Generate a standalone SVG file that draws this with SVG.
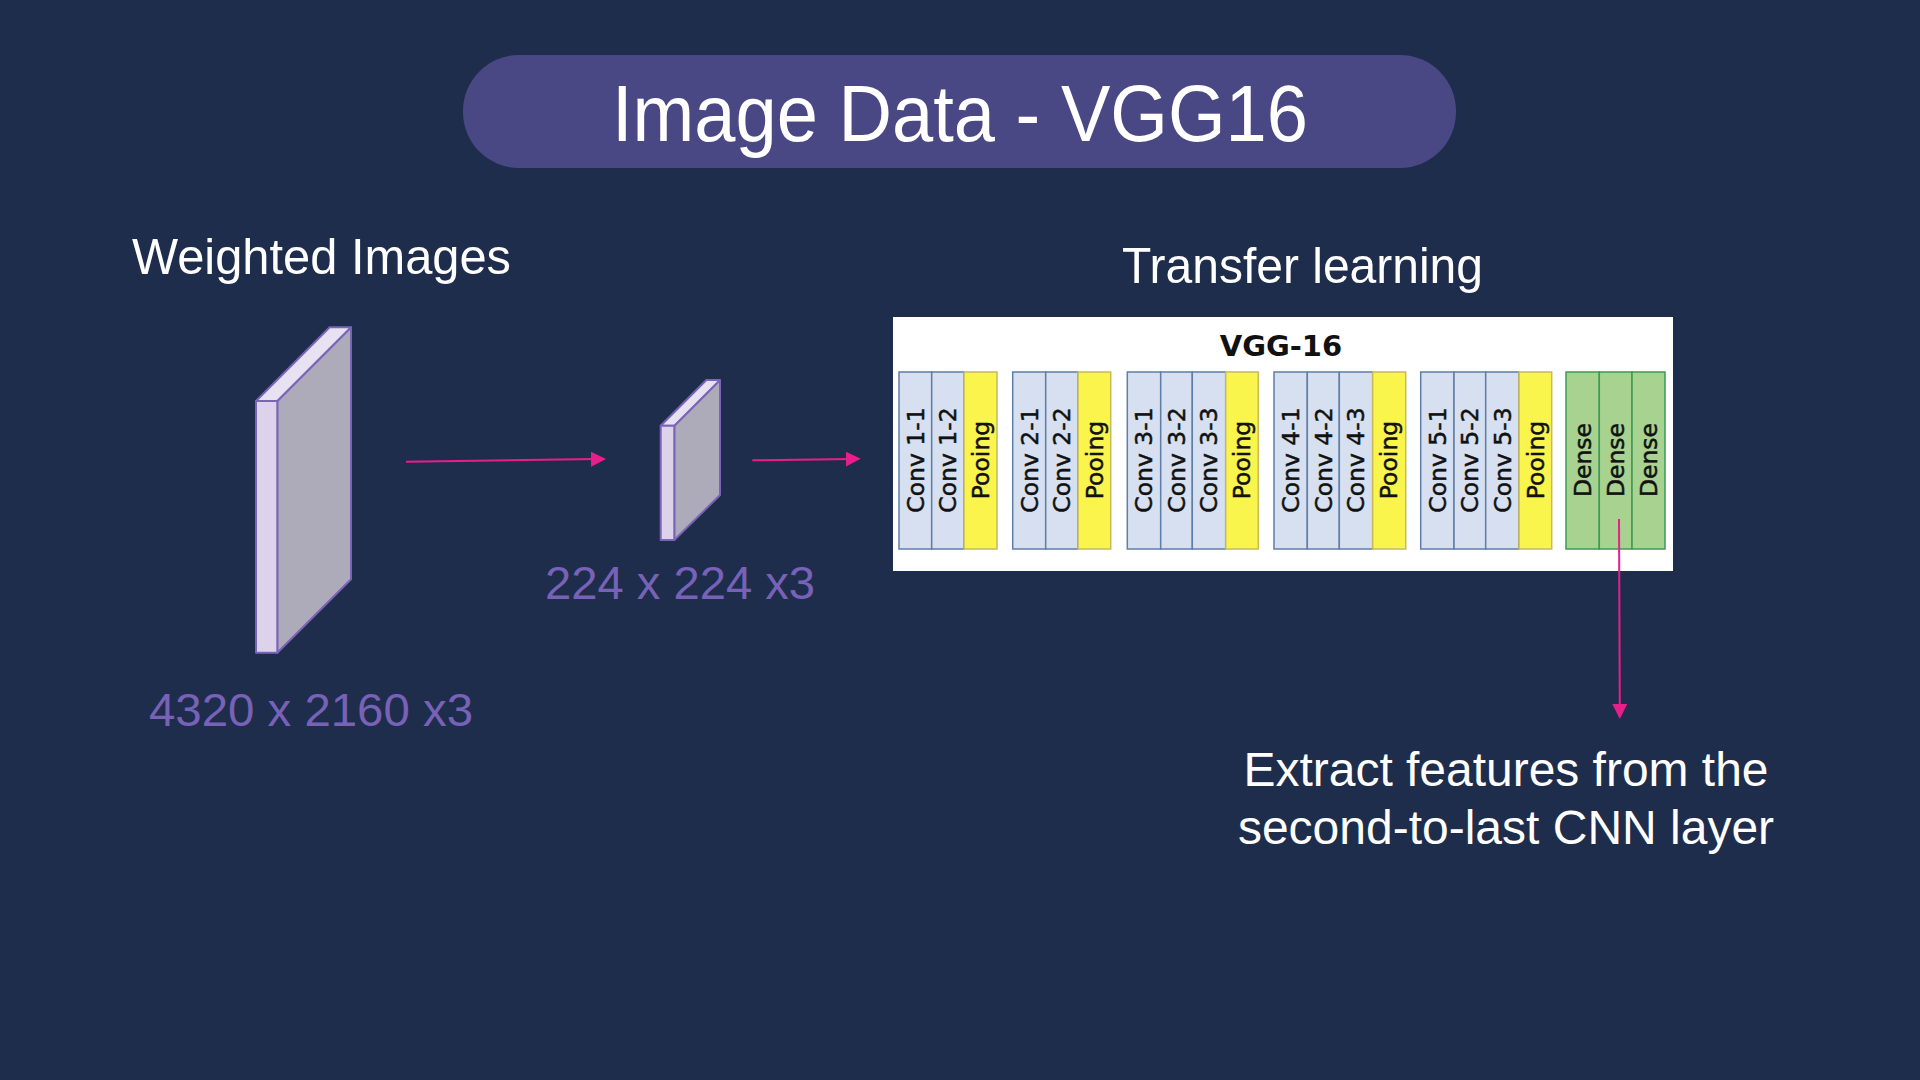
<svg xmlns="http://www.w3.org/2000/svg" width="1920" height="1080" viewBox="0 0 1920 1080">
<defs>
<style>
.bg{fill:#1f2d4c}
.w{fill:#ffffff;font-family:"Liberation Sans",Arial,sans-serif}
.p{fill:#7762b7;font-family:"Liberation Sans",Arial,sans-serif;font-size:46px}
.conv{fill:#d6e0f0;stroke:#5f7ea8;stroke-width:1.5}
.pool{fill:#f9f54d;stroke:#c8b95a;stroke-width:1.5}
.dense{fill:#a7d28f;stroke:#3d9a55;stroke-width:1.5}
.lt{fill:#111111;stroke:#111111;stroke-width:0.5;font-family:"DejaVu Sans",sans-serif;font-size:23.5px;text-anchor:middle}
.front{fill:#dcd3ea;stroke:#7a64b8;stroke-width:2;stroke-linejoin:round}
.top{fill:#e7e2f1;stroke:#7a64b8;stroke-width:2;stroke-linejoin:round}
.side{fill:#adaaba;stroke:#7a64b8;stroke-width:2;stroke-linejoin:round}
.arr{stroke:#e91e8c;stroke-width:2;fill:none;marker-end:url(#ah)}
</style>
<marker id="ah" markerUnits="userSpaceOnUse" markerWidth="16" markerHeight="16" refX="5" refY="7.5" orient="auto">
<path d="M0,0 L15,7.5 L0,15 Z" fill="#e91e8c"/>
</marker>
</defs>
<rect class="bg" x="0" y="0" width="1920" height="1080"/>

<g id="title">
<rect x="463" y="55" width="993" height="113" rx="56" ry="56" fill="#4a4884"/>
<text class="w" x="960" y="141" font-size="80" text-anchor="middle" textLength="696" lengthAdjust="spacingAndGlyphs">Image Data - VGG16</text>
</g>

<g id="label-weighted">
<text class="w" x="132" y="274" font-size="50" textLength="379" lengthAdjust="spacingAndGlyphs">Weighted Images</text>
</g>
<g id="label-transfer">
<text class="w" x="1122" y="283" font-size="50" textLength="361" lengthAdjust="spacingAndGlyphs">Transfer learning</text>
</g>

<g id="big-image">
<polygon class="side" points="277.3,401 351,327.3 351,579.3 277.3,652.7"/>
<polygon class="top" points="256,401 277.3,401 351,327.3 329.7,327.3"/>
<rect class="front" x="256" y="401" width="21.3" height="251.7"/>
<text class="p" x="149" y="726" textLength="324" lengthAdjust="spacingAndGlyphs">4320 x 2160 x3</text>
</g>

<g id="small-image">
<polygon class="side" points="674.3,425.7 720,380 720,495 674.3,540"/>
<polygon class="top" points="660.7,425.7 674.3,425.7 720,380 706.4,380"/>
<rect class="front" x="660.7" y="425.7" width="13.6" height="114.3"/>
<text class="p" x="545" y="599" textLength="270" lengthAdjust="spacingAndGlyphs">224 x 224 x3</text>
</g>

<g id="vgg16">
<rect x="893" y="317" width="780" height="254" fill="#ffffff"/>
<text x="1281" y="356" fill="#111111" font-family="DejaVu Sans,sans-serif" font-weight="bold" font-size="29" text-anchor="middle">VGG-16</text>

<g id="block1">
<rect class="conv" x="899" y="372" width="32.7" height="177"/>
<rect class="conv" x="931.7" y="372" width="32.3" height="177"/>
<rect class="pool" x="964" y="372" width="33" height="177"/>
<text class="lt" transform="translate(923.5,460) rotate(-90)">Conv 1-1</text>
<text class="lt" transform="translate(956,460) rotate(-90)">Conv 1-2</text>
<text class="lt" transform="translate(988.5,460) rotate(-90)">Pooing</text>
</g>

<g id="block2">
<rect class="conv" x="1012.7" y="372" width="33" height="177"/>
<rect class="conv" x="1045.7" y="372" width="32.3" height="177"/>
<rect class="pool" x="1078" y="372" width="32.7" height="177"/>
<text class="lt" transform="translate(1037.5,460) rotate(-90)">Conv 2-1</text>
<text class="lt" transform="translate(1070,460) rotate(-90)">Conv 2-2</text>
<text class="lt" transform="translate(1102.5,460) rotate(-90)">Pooing</text>
</g>

<g id="block3">
<rect class="conv" x="1127.3" y="372" width="33.4" height="177"/>
<rect class="conv" x="1160.7" y="372" width="31.6" height="177"/>
<rect class="conv" x="1192.3" y="372" width="33.4" height="177"/>
<rect class="pool" x="1225.7" y="372" width="32.6" height="177"/>
<text class="lt" transform="translate(1152,460) rotate(-90)">Conv 3-1</text>
<text class="lt" transform="translate(1184.5,460) rotate(-90)">Conv 3-2</text>
<text class="lt" transform="translate(1217,460) rotate(-90)">Conv 3-3</text>
<text class="lt" transform="translate(1250,460) rotate(-90)">Pooing</text>
</g>

<g id="block4">
<rect class="conv" x="1274" y="372" width="33.3" height="177"/>
<rect class="conv" x="1307.3" y="372" width="32" height="177"/>
<rect class="conv" x="1339.3" y="372" width="33.4" height="177"/>
<rect class="pool" x="1372.7" y="372" width="33" height="177"/>
<text class="lt" transform="translate(1298.5,460) rotate(-90)">Conv 4-1</text>
<text class="lt" transform="translate(1331.5,460) rotate(-90)">Conv 4-2</text>
<text class="lt" transform="translate(1364,460) rotate(-90)">Conv 4-3</text>
<text class="lt" transform="translate(1397,460) rotate(-90)">Pooing</text>
</g>

<g id="block5">
<rect class="conv" x="1420.7" y="372" width="33.3" height="177"/>
<rect class="conv" x="1454" y="372" width="31.7" height="177"/>
<rect class="conv" x="1485.7" y="372" width="33.3" height="177"/>
<rect class="pool" x="1519" y="372" width="32.7" height="177"/>
<text class="lt" transform="translate(1445.5,460) rotate(-90)">Conv 5-1</text>
<text class="lt" transform="translate(1478,460) rotate(-90)">Conv 5-2</text>
<text class="lt" transform="translate(1510.5,460) rotate(-90)">Conv 5-3</text>
<text class="lt" transform="translate(1543.5,460) rotate(-90)">Pooing</text>
</g>

<g id="dense">
<rect class="dense" x="1566" y="372" width="33.3" height="177"/>
<rect class="dense" x="1599.3" y="372" width="32.7" height="177"/>
<rect class="dense" x="1632" y="372" width="33" height="177"/>
<text class="lt" transform="translate(1591,460) rotate(-90)">Dense</text>
<text class="lt" transform="translate(1624,460) rotate(-90)">Dense</text>
<text class="lt" transform="translate(1656.5,460) rotate(-90)">Dense</text>
</g>
</g>

<g id="label-extract">
<text class="w" x="1506" y="786" font-size="48" text-anchor="middle" textLength="525" lengthAdjust="spacingAndGlyphs">Extract features from the</text>
<text class="w" x="1506" y="844" font-size="48" text-anchor="middle">second-to-last CNN layer</text>
</g>

<g id="connectors">
<line class="arr" x1="406" y1="461.7" x2="596" y2="459.1"/>
<line class="arr" x1="752.3" y1="460.3" x2="850.7" y2="459"/>
<line class="arr" x1="1619" y1="519" x2="1619.8" y2="709"/>
</g>
</svg>
